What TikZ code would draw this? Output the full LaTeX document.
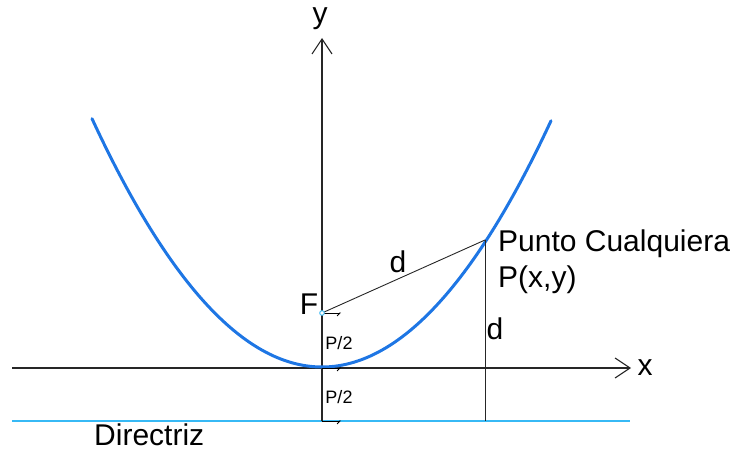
\documentclass[tikz,border=0pt]{standalone}
\usepackage{fontspec}
\setmainfont{Liberation Sans}
\usetikzlibrary{arrows.meta}
\definecolor{parab}{RGB}{30,118,228}
\definecolor{direc}{RGB}{55,185,245}
\begin{document}
\begin{tikzpicture}[x=1pt,y=-1pt,
  axis/.style={line width=1.1pt,black!85,-{Straight Barb[length=15pt,width=20pt,line width=1.1pt]}},
  lbl/.style={inner sep=0pt,font=\fontsize{30}{32}\selectfont},
  small/.style={inner sep=0pt,font=\fontsize{18}{20}\selectfont},
  tick/.style={line width=0.8pt,-{Straight Barb[length=3pt,width=6pt,harpoon,swap]}},
  thin/.style={line width=0.9pt,black!85}]
\useasboundingbox (0,0) rectangle (737,452);
% key points
\coordinate (O) at (322,368);
\coordinate (F) at (322,313);
\coordinate (P) at (485,240);
\coordinate (D0) at (322,421);
\coordinate (DP) at (485,421);
\coordinate (xs) at (12,368);
\coordinate (xe) at (631,368);
\coordinate (ys) at (322,421);
\coordinate (ye) at (322,38);
\coordinate (dl) at (12,421);
\coordinate (dr) at (630,421);
% directrix
\draw[direc,line width=1.4pt] (dl) -- (dr);
% axes
\draw[axis] (xs) -- (xe);
\draw[axis] (ys) -- (ye);
% parabola
\draw[parab,line width=3pt,line cap=round] plot[domain=92:551,samples=120,smooth] (\x,{367-((\x-322)/10)^2/2.13});
% segments
\draw[thin] (F) -- (P);
\draw[thin] (P) -- (DP);
% small ticks
\coordinate (t1) at (341,313);
\coordinate (t2) at (341,368);
\coordinate (t3) at (341,421);
\draw[tick] (F) -- (t1);
\draw[tick] (O) -- (t2);
\draw[tick] (D0) -- (t3);
% focus marker
\draw[direc,line width=0.9pt,fill=white] (F) circle (2.3pt);
% labels
\node[lbl,anchor=center] (ylab) at (320,19) {y};
\node[lbl,anchor=center] (xlab) at (645,368) {x};
\node[lbl,anchor=center] (Flab) at (309,304) {F};
\node[lbl,anchor=center] (d1) at (398,262) {d};
\node[lbl,anchor=center] (d2) at (495,329) {d};
\node[small,anchor=center] (p1) at (339,343) {P/2};
\node[small,anchor=center] (p2) at (339,397) {P/2};
\node[lbl,anchor=west] (punto) at (498,244) {Punto Cualquiera};
\node[lbl,anchor=west] (pxy) at (498,280) {P(x,y)};
\node[lbl,anchor=west] (dir) at (94,435) {Directriz};
\end{tikzpicture}
\end{document}
